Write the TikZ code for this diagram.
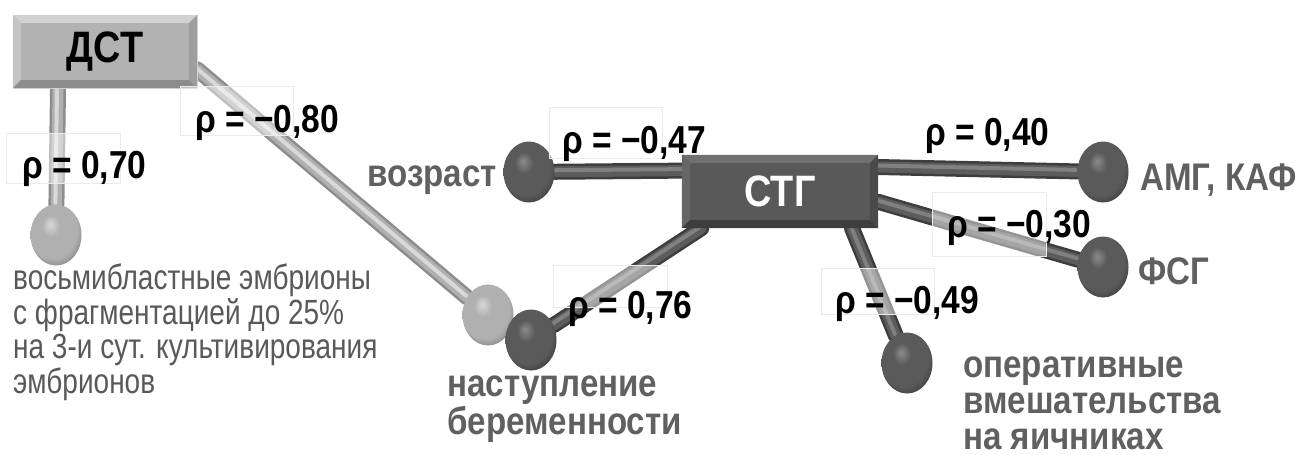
\documentclass[tikz,border=0pt]{standalone}
\usepackage{fontspec}
\setmainfont{Liberation Sans}[FakeStretch=0.86]
\newfontfamily\narrowsans{Liberation Sans}[FakeStretch=0.80]
\usepackage{tikz}
\usetikzlibrary{calc}
\usetikzlibrary{shapes}
\usetikzlibrary{positioning}
\pgfdeclarelayer{background}
\pgfsetlayers{background,main}
\definecolor{ballhi}{HTML}{8C8C8C}
\definecolor{ballmid}{HTML}{5A5A5A}
\definecolor{balledge}{HTML}{363636}
\definecolor{lballhi}{HTML}{D8D8D8}
\definecolor{lballmid}{HTML}{B0B0B0}
\definecolor{lballedge}{HTML}{7A7A7A}
\definecolor{txtgray}{HTML}{606060}
\pgfdeclareradialshading{darkball}{\pgfpoint{-6bp}{9bp}}{color(0bp)=(ballhi);color(9bp)=(ballmid);color(24bp)=(ballmid);color(33bp)=(balledge);color(50bp)=(balledge)}
\pgfdeclareradialshading{lightball}{\pgfpoint{-6bp}{9bp}}{color(0bp)=(lballhi);color(9bp)=(lballmid);color(24bp)=(lballmid);color(33bp)=(lballedge);color(50bp)=(lballedge)}

\begin{document}
\begin{tikzpicture}[x=1pt,y=-1pt]

		\def\bw{8pt}
		\def\opac{0.45}

		\tikzset{roddark/.style={draw=black!76,line width=16pt,line cap=round,
				postaction={draw=black!64,line width=11pt},
				postaction={draw=black!50,line width=4pt,transform canvas={shift={(-1pt,1.5pt)}}}}}
		\tikzset{rodlight/.style={draw=black!45,line width=16pt,line cap=round,
				postaction={draw=black!31,line width=11pt},
				postaction={draw=black!15,line width=4pt,transform canvas={shift={(-1pt,1.5pt)}}}}}
		\tikzset{knob/.style={ellipse,inner sep=0pt,minimum width=51pt,minimum height=61pt}}
		\tikzset{knobdark/.style={knob,shading=darkball}}
		\tikzset{knoblight/.style={knob,shading=lightball}}
		\tikzset{box/.style={rectangle,inner sep=0pt,minimum height=73pt,font=\fontsize{44}{44}\selectfont\bfseries}}
		\tikzset{lblbox/.style={draw=black!8,line width=0.8pt,fill=white,fill opacity=\opac,inner sep=0pt}}
		\tikzset{rho/.style={anchor=base west,inner sep=0pt,font=\fontsize{39}{39}\selectfont\bfseries}}
		\tikzset{tag/.style={inner sep=0pt,text=txtgray,align=left,font=\fontsize{38.5}{36}\selectfont\bfseries}}

		\def\bevel#1#2#3#4#5{%
			\fill[#2] (#1.north west) -- (#1.north east) -- ($(#1.north east)+(-\bw,-\bw)$) -- ($(#1.north west)+(\bw,-\bw)$) -- cycle;
			\fill[#3] (#1.north west) -- ($(#1.north west)+(\bw,-\bw)$) -- ($(#1.south west)+(\bw,\bw)$) -- (#1.south west) -- cycle;
			\fill[#4] (#1.south west) -- ($(#1.south west)+(\bw,\bw)$) -- ($(#1.south east)+(-\bw,\bw)$) -- (#1.south east) -- cycle;
			\fill[#5] (#1.south east) -- ($(#1.south east)+(-\bw,\bw)$) -- ($(#1.north east)+(-\bw,-\bw)$) -- (#1.north east) -- cycle;}

		\useasboundingbox (0,0) rectangle (1302,455);

		\node[box,minimum width=184pt,fill=black!30,draw=black!15] (dst) at (105,51.5) {ДСТ};
		\bevel{dst}{black!18}{black!23}{black!45}{black!38}

		\node[box,minimum width=196pt,fill=black!65,text=white] (stg) at (780,191.5) {СТГ};
		\bevel{stg}{black!56}{black!60}{black!76}{black!71}

		\node[knoblight] (x1) at (56,235) {};
		\node[knobdark] (x2) at (529,172) {};
		\node[knobdark] (x3) at (1103,172) {};
		\node[knobdark] (x4) at (1103,267) {};
		\node[knobdark] (x5) at (907,363) {};
		\node[knoblight] (x6) at (488,315) {};
		\node[knobdark] (x7) at (531,340) {};

		\begin{pgfonlayer}{background}
			\path[rodlight] (dst.218) -- (x1);
			\path[rodlight] (dst.-11) -- (x6);
			\path[roddark] (stg.168) -- (x2);
			\path[roddark] (stg.14) -- (x3);
			\path[roddark] (stg.-6) -- (x4);
			\path[roddark] (stg.-27) -- (x5);
			\path[roddark] (stg.205) -- (x7);
		\end{pgfonlayer}

		% label frames
		\node[lblbox,minimum width=114pt,minimum height=50pt] (f1) at (63,158) {};
		\node[lblbox,minimum width=113pt,minimum height=49pt] (f2) at (236.5,110.5) {};
		\node[lblbox,minimum width=113pt,minimum height=51pt] (f3) at (605.5,132.5) {};
		\node[lblbox,minimum width=114pt,minimum height=64pt] (f5) at (989,224) {};
		\node[lblbox,minimum width=114pt,minimum height=42pt] (f6) at (610,286) {};
		\node[lblbox,minimum width=113pt,minimum height=46pt] (f7) at (877.5,291) {};

		\node[rho] (r1) at (22,178) {ρ = 0,70};
		\node[rho] (r2) at (195,132) {ρ = −0,80};
		\node[rho] (r3) at (562,153) {ρ = −0,47};
		\node[rho] (r4) at (925,145) {ρ = 0,40};
		\node[rho] (r5) at (947,237) {ρ = −0,30};
		\node[rho] (r6) at (568,318) {ρ = 0,76};
		\node[rho] (r7) at (835,313) {ρ = −0,49};

		\node[tag,anchor=base east] (t1) at (497,186) {возраст};
		\node[tag,anchor=base west] (t2) at (1140,190) {АМГ, КАФ};
		\node[tag,anchor=base west] (t3) at (1138,284) {ФСГ};
		\node[tag,anchor=base west] (t4) at (963,449) {оперативные\\вмешательства\\на яичниках};
		\node[tag,anchor=base west] (t5) at (447,434) {наступление\\беременности};
		\node[tag,anchor=base west,font=\narrowsans\fontsize{35}{34.5}\selectfont,text=black!65] (t6) at (13,393)
			{восьмибластные эмбрионы\\с фрагментацией до 25\%\\на 3-и сут. культивирования\\эмбрионов};

	\end{tikzpicture}
\end{document}
